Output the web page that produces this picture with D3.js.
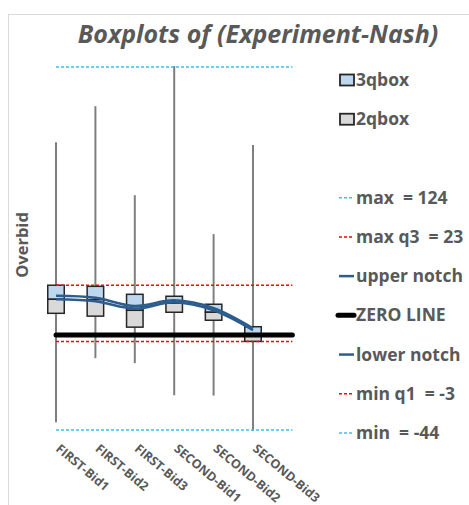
<!DOCTYPE html>
<html>
<head>
<meta charset="utf-8">
<script src="https://cdn.jsdelivr.net/npm/d3@7"></script>
<style>
  body { margin: 0; background: #fff; }
  text { font-family: "Open Sans", sans-serif; fill: #595959; white-space: pre; }
</style>
</head>
<body>
<div id="chart"></div>
<script>
// Data
const categories = ['FIRST-Bid1', 'FIRST-Bid2', 'FIRST-Bid3', 'SECOND-Bid1', 'SECOND-Bid2', 'SECOND-Bid3'];
const whiskerMax = [88.7, 105.4, 64.2, 124, 46.2, 87.4];
const whiskerMin = [-39.9, -10.3, -12.6, -27.5, -27.6, -44];
const q3 = [23, 22.5, 18.8, 17.9, 14.2, 3.8];
const median = [16.5, 16.3, 11.4, 14.7, 10.5, 0];
const q1 = [10, 8.7, 3.6, 10.5, 6.8, -3];
const upperNotch = [18.1, 17.2, 13.4, 16.0, 12.4, 3.1];
const lowerNotch = [16.5, 15.6, 12.2, 15.1, 11.4, 2.2];
const maxAll = 124, maxQ3 = 23, minQ1 = -3, minAll = -44, zeroLine = 0;
const legendLabels = ['3qbox', '2qbox', null, 'max  = 124', 'max q3  = 23', 'upper notch',
  'ZERO LINE', 'lower notch', 'min q1  = -3', 'min  = -44'];

const W = 469, H = 505;
const svg = d3.select('#chart').append('svg')
  .attr('width', W).attr('height', H);

// chart frame
svg.append('rect')
  .attr('x', 8.5).attr('y', 14.5).attr('width', 480).attr('height', 500)
  .attr('fill', 'none').attr('stroke', '#d9d9d9');

// Scales
const x = d3.scalePoint().domain(categories).range([56, 253]);
const y = d3.scaleLinear().domain([-44, 124]).range([430, 67]);
const xEnd = x(categories[categories.length - 1]) + x.step();
const boxW = 16.5;

// Title
svg.append('text')
  .attr('x', 258).attr('y', 43)
  .attr('text-anchor', 'middle')
  .style('font-size', '25px').style('font-weight', 'bold').style('font-style', 'italic')
  .text('Boxplots of (Experiment-Nash)');

// Y title
svg.append('text')
  .attr('transform', 'translate(28,245) rotate(-90)')
  .attr('text-anchor', 'middle')
  .style('font-size', '16.5px').style('font-weight', 'bold')
  .text('Overbid');

const idx = d3.range(categories.length);

// Whiskers
svg.append('g').selectAll('line').data(idx).join('line')
  .attr('x1', i => x(categories[i])).attr('x2', i => x(categories[i]))
  .attr('y1', i => y(whiskerMax[i])).attr('y2', i => y(whiskerMin[i]))
  .attr('stroke', '#7f7f7f').attr('stroke-width', 2).attr('stroke-linecap', 'square');

// Boxes: upper part (median..q3) and lower part (q1..median)
const boxes = svg.append('g');
boxes.selectAll('.upper').data(idx).join('rect')
  .attr('class', 'upper')
  .attr('x', i => x(categories[i]) - boxW / 2).attr('width', boxW)
  .attr('y', i => y(q3[i])).attr('height', i => y(median[i]) - y(q3[i]))
  .attr('fill', '#bdd7ee').attr('stroke', '#262626').attr('stroke-width', 1.5);
boxes.selectAll('.lower').data(idx).join('rect')
  .attr('class', 'lower')
  .attr('x', i => x(categories[i]) - boxW / 2).attr('width', boxW)
  .attr('y', i => y(median[i])).attr('height', i => y(q1[i]) - y(median[i]))
  .attr('fill', '#d9d9d9').attr('stroke', '#262626').attr('stroke-width', 1.5);

// Reference lines
function refLine(v, color, width, dash) {
  const l = svg.append('line')
    .attr('x1', x(categories[0])).attr('x2', xEnd)
    .attr('y1', y(v)).attr('y2', y(v))
    .attr('stroke', color).attr('stroke-width', width);
  if (dash) l.attr('stroke-dasharray', dash);
  return l;
}
refLine(maxAll, '#3fbdf0', 1.5, '3,2');
refLine(maxQ3, '#ff0000', 1.5, '3,2');
refLine(minQ1, '#ff0000', 1.5, '3,2');
refLine(minAll, '#3fbdf0', 1.5, '3,2');

// Notch lines (smoothed)
const notchLine = d3.line()
  .x(i => x(categories[i]))
  .curve(d3.curveCatmullRom.alpha(0.5));
svg.append('path')
  .attr('d', notchLine.y(i => y(upperNotch[i]))(idx))
  .attr('fill', 'none').attr('stroke', '#2c5d8c').attr('stroke-width', 2.5);
svg.append('path')
  .attr('d', notchLine.y(i => y(lowerNotch[i]))(idx))
  .attr('fill', 'none').attr('stroke', '#2c5d8c').attr('stroke-width', 2.5);

// Zero line
refLine(zeroLine, '#000', 5).attr('stroke-linecap', 'round');

// X labels
svg.append('g').selectAll('text').data(categories).join('text')
  .attr('transform', d => `translate(${x(d) - 1},450) rotate(40)`)
  .style('font-size', '12.5px').style('font-weight', 'bold')
  .text(d => d);

// Legend
const legY = d3.scaleLinear().domain([0, 9]).range([80, 433]);
const leg = svg.append('g');
legendLabels.forEach((lab, i) => {
  if (!lab) return;
  const cy = legY(i);
  if (i === 0 || i === 1) {
    leg.append('rect')
      .attr('x', 340).attr('y', cy - 5.5).attr('width', 14).attr('height', 11)
      .attr('fill', i === 0 ? '#bdd7ee' : '#d9d9d9')
      .attr('stroke', '#262626').attr('stroke-width', 1.8);
  } else {
    const styles = {
      3: ['#3fbdf0', 1.5, '3,2'], 4: ['#ff0000', 1.5, '3,2'], 5: ['#2c5d8c', 2.5, null],
      6: ['#000', 5, null], 7: ['#2c5d8c', 2.5, null], 8: ['#ff0000', 1.5, '3,2'], 9: ['#3fbdf0', 1.5, '3,2']
    }[i];
    const l = leg.append('line')
      .attr('x1', i === 6 ? 338 : 339).attr('x2', i === 6 ? 354 : 354)
      .attr('y1', cy).attr('y2', cy)
      .attr('stroke', styles[0]).attr('stroke-width', styles[1]);
    if (styles[2]) l.attr('stroke-dasharray', styles[2]);
    if (i === 6) l.attr('stroke-linecap', 'round');
  }
  leg.append('text')
    .attr('x', 356).attr('y', cy + 6)
    .style('font-size', '17.5px').style('font-weight', 'bold')
    .text(lab);
});
</script>
</body>
</html>
